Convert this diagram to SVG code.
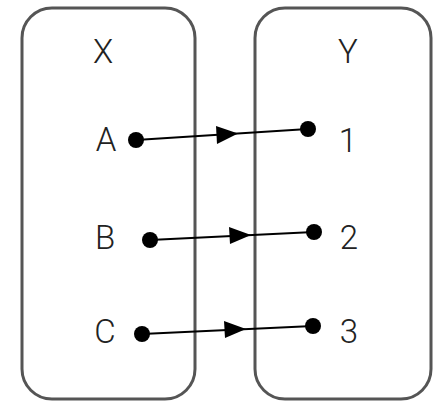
<svg xmlns="http://www.w3.org/2000/svg" width="433" height="402" viewBox="0 0 433 402">
<style>
.box{fill:#fff;stroke:#555;stroke-width:3}
.lbl{font-family:Roboto,"Liberation Sans",Arial,sans-serif;font-weight:300;font-size:33px;fill:#222;text-anchor:middle}
.dot{fill:#000}
.edge{stroke:#000;stroke-width:2;fill:none}
.head{fill:#000}
</style>
<rect width="433" height="402" fill="#fff"/>
<g id="setX">
<rect class="box" x="22" y="8" width="173" height="391" rx="30" ry="30"/>
<text class="lbl" x="103" y="63">X</text>
</g>
<g id="setY">
<rect class="box" x="255" y="8" width="176" height="391" rx="30" ry="30"/>
<text class="lbl" x="348" y="63">Y</text>
</g>
<g id="nodeA"><text class="lbl" x="106" y="151">A</text><circle class="dot" cx="136" cy="140" r="8"/></g>
<g id="nodeB"><text class="lbl" x="105" y="249">B</text><circle class="dot" cx="150" cy="240" r="8"/></g>
<g id="nodeC"><text class="lbl" x="105" y="343">C</text><circle class="dot" cx="142" cy="334" r="8"/></g>
<g id="node1"><circle class="dot" cx="308" cy="129" r="8"/><text class="lbl" x="348" y="152">1</text></g>
<g id="node2"><circle class="dot" cx="314" cy="232" r="8"/><text class="lbl" x="349" y="249">2</text></g>
<g id="node3"><circle class="dot" cx="313" cy="326" r="8"/><text class="lbl" x="349" y="343">3</text></g>
<g id="connectors">
<line class="edge" x1="136" y1="140" x2="308" y2="129"/>
<polygon class="head" points="238,133.5 216,126 217,144"/>
<line class="edge" x1="150" y1="240" x2="314" y2="232"/>
<polygon class="head" points="251,235 229,227 230,244"/>
<line class="edge" x1="142" y1="334" x2="313" y2="326"/>
<polygon class="head" points="246,329 224,321 225,338"/>
</g>
</svg>
